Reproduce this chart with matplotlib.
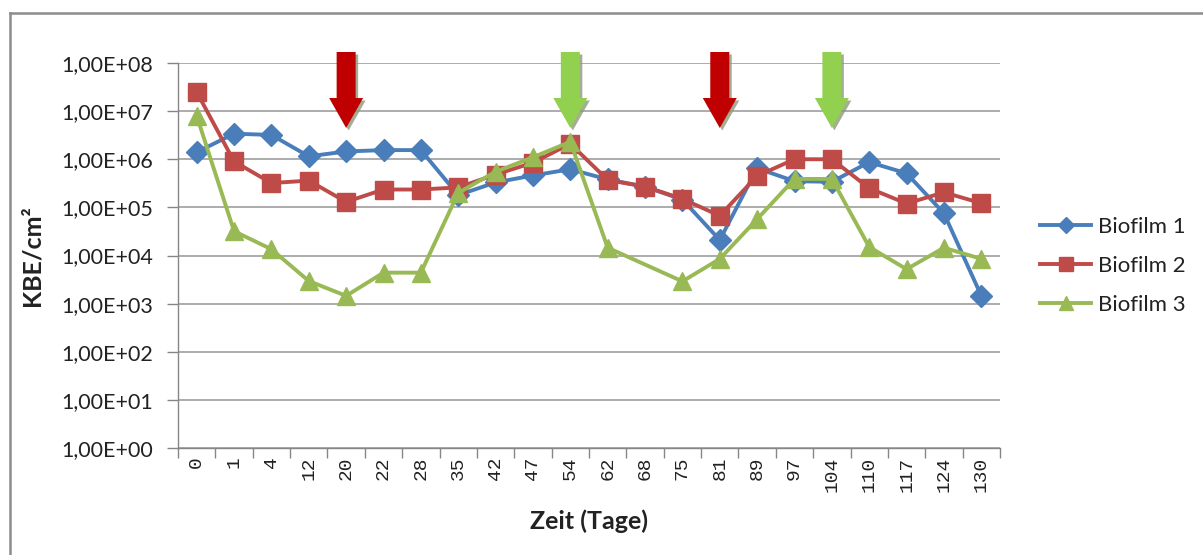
import numpy as np
import matplotlib
matplotlib.use("Agg")
import matplotlib.pyplot as plt
from matplotlib.patches import Polygon
from matplotlib.lines import Line2D
import matplotlib.transforms as mtransforms

# ---------------- data ----------------
days = ["0", "1", "4", "12", "20", "22", "28", "35", "42", "47", "54",
        "62", "68", "75", "81", "89", "97", "104", "110", "117", "124", "130"]
biofilm1 = [1.4e6, 3.4e6, 3.2e6, 1.15e6, 1.45e6, 1.55e6, 1.55e6, 1.8e5, 3.3e5, 4.6e5, 6.2e5,
            3.8e5, 2.7e5, 1.45e5, 2.1e4, 6.5e5, 3.5e5, 3.4e5, 8.7e5, 5.1e5, 7.5e4, 1.45e3]
biofilm2 = [2.5e7, 9.0e5, 3.2e5, 3.6e5, 1.3e5, 2.35e5, 2.35e5, 2.6e5, 4.8e5, 8.5e5, 2.1e6,
            3.7e5, 2.7e5, 1.5e5, 6.7e4, 4.5e5, 1.0e6, 1.0e6, 2.5e5, 1.2e5, 2.05e5, 1.22e5]
biofilm3 = [8.0e6, 3.2e4, 1.35e4, 2.95e3, 1.45e3, 4.4e3, 4.4e3, 2.0e5, 5.5e5, 1.1e6, 2.3e6,
            1.45e4, np.nan, 2.9e3, 8.5e3, 5.7e4, 3.9e5, 3.9e5, 1.5e4, 5.2e3, 1.45e4, 8.5e3]
series_names = ["Biofilm 1", "Biofilm 2", "Biofilm 3"]
y_ticks = [1e0, 1e1, 1e2, 1e3, 1e4, 1e5, 1e6, 1e7, 1e8]
y_ticklabels = ["1,00E+00", "1,00E+01", "1,00E+02", "1,00E+03", "1,00E+04",
                "1,00E+05", "1,00E+06", "1,00E+07", "1,00E+08"]
red_arrow_days = ["20", "81"]
green_arrow_days = ["54", "104"]

# ---------------- style ----------------
colors = ["#4A7EBB", "#BE4B48", "#98B954"]
markers = ["D", "s", "^"]
msizes = [11, 13, 13]
font = ["Lato", "DejaVu Sans"]
plt.rcParams["font.family"] = font

W, H = 1203, 555
fig = plt.figure(figsize=(W / 100, H / 100), dpi=100)
ax_left, ax_right, ax_top, ax_bot = 178, 1000, 63, 448
ax_w, ax_h = ax_right - ax_left, ax_bot - ax_top
ax = fig.add_axes([ax_left / W, (H - ax_bot) / H, ax_w / W, ax_h / H])

x = np.arange(len(days))
for vals, c, m, ms, name in zip([biofilm1, biofilm2, biofilm3], colors, markers, msizes, series_names):
    v = np.array(vals, dtype=float)
    ok = ~np.isnan(v)
    ax.plot(x[ok], v[ok], color=c, lw=2.8, marker=m, ms=ms, mec=c, mfc=c,
            label=name, zorder=3, solid_joinstyle="round")

ax.set_yscale("log")
ax.set_ylim(1e0, 1e8)
ax.set_xlim(-0.5, len(days) - 0.5)
ax.set_yticks(y_ticks)
ax.set_yticklabels(y_ticklabels)
ax.yaxis.set_minor_locator(matplotlib.ticker.NullLocator())
ax.tick_params(axis="y", which="major", length=8, width=1, color="#868686",
               labelsize=15.5, pad=10, labelcolor="#222222")
ax.grid(axis="y", color="#A6A6A6", lw=1.3, zorder=0)
ax.set_axisbelow(True)

# x ticks: marks between categories, labels at centers
ax.set_xticks(np.arange(len(days) + 1) - 0.5)
ax.set_xticklabels([])
ax.set_xticks(x, minor=True)
ax.set_xticklabels(days, minor=True, rotation=90, fontsize=14,
                   family=["Liberation Mono", "DejaVu Sans Mono"], color="#222222")
ax.tick_params(axis="x", which="major", length=7, width=1, color="#868686")
ax.tick_params(axis="x", which="minor", length=0, pad=6)

for s in ["top", "right"]:
    ax.spines[s].set_visible(False)
for s in ["left", "bottom"]:
    ax.spines[s].set_color("#868686")
    ax.spines[s].set_linewidth(1.0)

ax.set_xlabel("Zeit (Tage)", fontsize=18, fontweight="bold", color="#222222")
ax.set_ylabel("KBE/cm²", fontsize=18, fontweight="bold", color="#222222")
ax.xaxis.set_label_coords(0.5, (ax_bot - 509) / ax_h)
ax.yaxis.set_label_coords((43 - ax_left) / ax_w, 0.5)

# arrows
trans = mtransforms.blended_transform_factory(ax.transData, ax.transAxes)
shadow_off = mtransforms.ScaledTranslation(2.5 / 100, -2.5 / 100, fig.dpi_scale_trans)

def arrow(day, color):
    i = days.index(day)
    ytop = (ax_bot - 52) / ax_h
    yhead = (ax_bot - 98) / ax_h
    ytip = (ax_bot - 128) / ax_h
    cat_px = ax_w / len(days)
    sw, hw = 9.5 / cat_px, 17 / cat_px
    pts = [(i - sw, ytop), (i + sw, ytop), (i + sw, yhead), (i + hw, yhead),
           (i, ytip), (i - hw, yhead), (i - sw, yhead)]
    ax.add_patch(Polygon(pts, closed=True, transform=trans + shadow_off,
                         facecolor="#8E9A7A", edgecolor="none", clip_on=False, zorder=4, alpha=0.8))
    ax.add_patch(Polygon(pts, closed=True, transform=trans,
                         facecolor=color, edgecolor="none", clip_on=False, zorder=5))

for d in red_arrow_days:
    arrow(d, "#C00000")
for d in green_arrow_days:
    arrow(d, "#92D050")

# legend
leg = ax.legend(loc="center left", bbox_to_anchor=(1040 / W, (H - 266) / H),
                bbox_transform=fig.transFigure, frameon=False, fontsize=16,
                handlelength=2.3, handletextpad=0.3, labelspacing=0.85, markerscale=0.75,
                borderaxespad=0, borderpad=0)
for t in leg.get_texts():
    t.set_color("#222222")

# chart-area border (top and left visible)
fig.add_artist(Line2D([10 / W, 1.0], [1 - 13 / H, 1 - 13 / H], transform=fig.transFigure,
                      color="#8C8C8C", lw=1.8))
fig.add_artist(Line2D([10 / W, 10 / W], [0, 1 - 13 / H], transform=fig.transFigure,
                      color="#8C8C8C", lw=1.8))

fig.savefig("out.png", dpi=100, facecolor="white")
